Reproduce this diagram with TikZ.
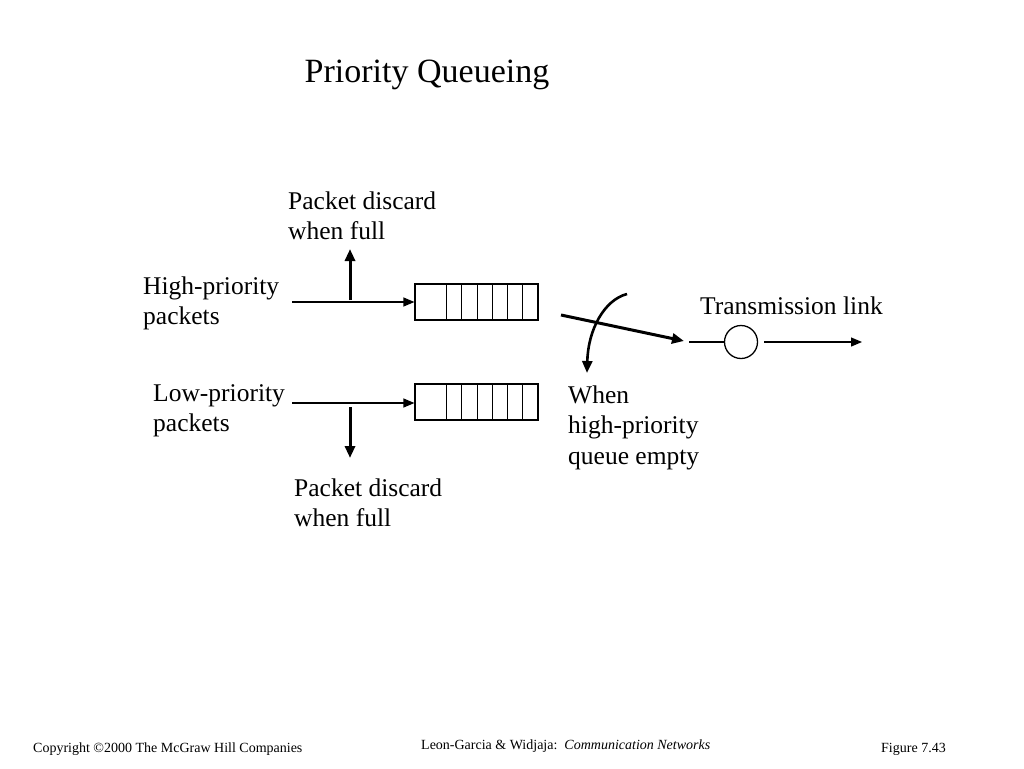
\documentclass[tikz,border=0pt]{standalone}
\usepackage{fontspec}
\setmainfont{Liberation Serif}
\usetikzlibrary{arrows.meta}
\begin{document}
\begin{tikzpicture}[x=1pt,y=-1pt,
  lbl/.style={anchor=base west,inner sep=0pt,align=left,font=\fontsize{25.5}{30.5}\selectfont},
  foot/.style={anchor=base west,inner sep=0pt,font=\fontsize{14}{16}\selectfont},
  thin/.style={line width=1.2pt},
  arr/.style={thin,-{Triangle[length=11pt,width=9pt]}},
  thickarr/.style={line width=3pt,-{Triangle[length=12pt,width=10pt]}},
  queue/.style={draw,line width=1.2pt,rectangle,minimum width=123pt,minimum height=36pt,inner sep=0pt},
  srv/.style={draw,line width=1.3pt,circle,minimum size=33pt,inner sep=0pt}]
\useasboundingbox (0,0) rectangle (1024,768);
\fill[white] (0,0) rectangle (1024,768);

% title
\node[anchor=base,inner sep=0pt,font=\fontsize{34}{40}\selectfont] (title) at (427,82) {Priority Queueing};

% queues
\node[queue] (qh) at (476.5,302) {};
\node[queue] (ql) at (476.5,402) {};
\foreach \q in {qh,ql}{
  \foreach \d in {32,47,63,78,93,108}{
    \draw[thin] ([xshift=\d pt]\q.north west) -- ([xshift=\d pt]\q.south west);
  }
}

% inputs
\coordinate (hin) at (292,302);
\coordinate (lin) at (292,403);
\draw[arr] (hin) -- (qh.west |- hin);
\draw[arr] (lin) -- (ql.west |- lin);

% discard arrows
\coordinate (hd0) at (350,300);
\coordinate (hd1) at (350,249);
\coordinate (ld0) at (350,407);
\coordinate (ld1) at (350,458);
\draw[thickarr] (hd0) -- (hd1);
\draw[thickarr] (ld0) -- (ld1);

% switch
\coordinate (sw0) at (561,315);
\coordinate (sw1) at (684,341);
\draw[thickarr] (sw0) -- (sw1);
\coordinate (cv0) at (627,294);
\coordinate (cv1) at (587,373);
\draw[line width=2.6pt,-{Triangle[length=12pt,width=10pt]}] (cv0) .. controls (604,300) and (588,330) .. (cv1);

% server
\node[srv] (srv) at (741,342) {};
\coordinate (sin) at (689,342);
\coordinate (sout) at (862,342);
\draw[thin] (sin) -- (srv.west);
\draw[arr] ([xshift=6pt]srv.east) -- (sout);

% labels (anchor = baseline of last line)
\node[lbl] (dh) at (288,239.5) {Packet discard\\when full};
\node[lbl] (hp) at (143,324.5) {High-priority\\packets};
\node[lbl] (lp) at (153,431.5) {Low-priority\\packets};
\node[lbl] (dl) at (294,526.5) {Packet discard\\when full};
\node[lbl] (tl) at (700,314) {Transmission link};
\node[lbl] (wh) at (568,464) {When\\high-priority\\queue empty};

% footer
\node[foot] (f1) at (33,752) {Copyright \textcopyright2000 The McGraw Hill Companies};
\node[foot] (f2) at (421,749) {Leon-Garcia \& Widjaja:\ \ \textit{Communication Networks}};
\node[foot] (f3) at (881,752) {Figure 7.43};
\end{tikzpicture}
\end{document}
